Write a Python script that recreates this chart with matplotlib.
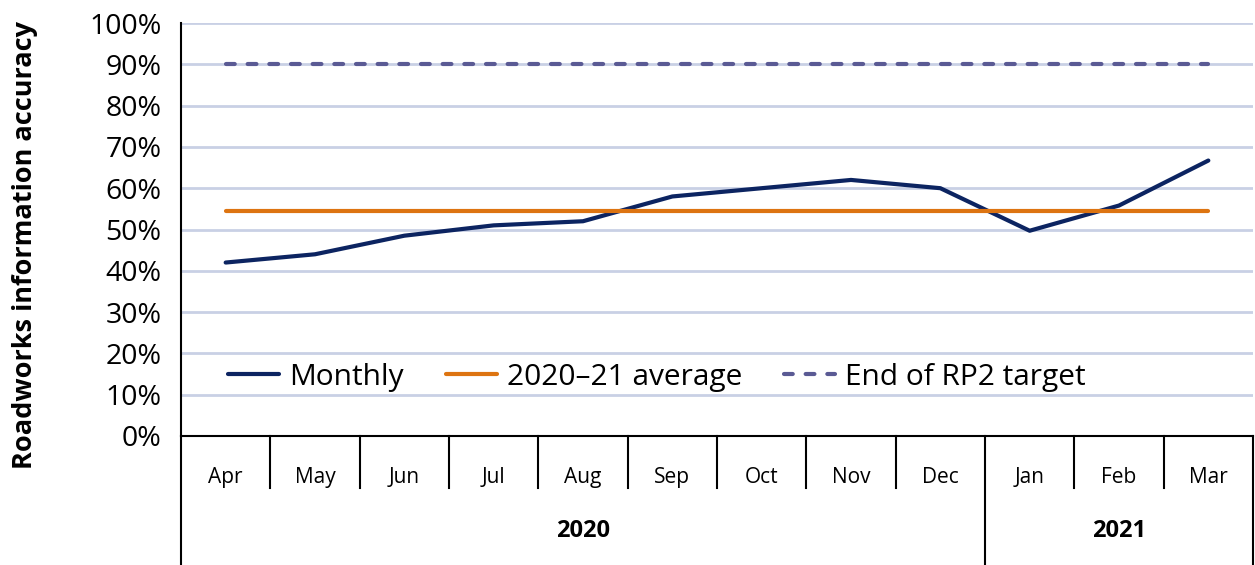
import numpy as np
import matplotlib
matplotlib.use('Agg')
import matplotlib.pyplot as plt
import matplotlib.transforms as mtransforms
from matplotlib.ticker import PercentFormatter

plt.rcParams['font.family'] = ['Open Sans', 'DejaVu Sans']

months = ['Apr', 'May', 'Jun', 'Jul', 'Aug', 'Sep', 'Oct', 'Nov', 'Dec', 'Jan', 'Feb', 'Mar']
years = ['2020', '2021']
year_months = [9, 3]  # months per year group
monthly = [42, 44, 48.5, 51, 52, 58, 60, 62, 60, 49.7, 55.8, 66.7]
average = 54.6
target = 90

navy = '#0c2461'
orange = '#dd7411'
purple = '#5a5a94'
grid = '#c9d0e5'

fig = plt.figure(figsize=(12.55, 5.65), dpi=100)
ax = fig.add_axes([181 / 1255, (565 - 436) / 565, (1253 - 181) / 1255, (436 - 23) / 565])

x = np.arange(len(months))
ax.plot(x, monthly, color=navy, lw=3, solid_capstyle='round', label='Monthly', zorder=3)
ax.plot(x, [average] * len(x), color=orange, lw=3, solid_capstyle='round', label='2020\u201321 average', zorder=3)
ax.plot(x, [target] * len(x), color=purple, lw=3, ls=(0, (2.1, 3.1)), dash_capstyle='round', label='End of RP2 target', zorder=3)

ax.set_xlim(-0.5, len(months) - 0.5)
ax.set_ylim(0, 100)
ax.set_yticks(np.arange(0, 101, 10))
ax.yaxis.set_major_formatter(PercentFormatter(decimals=0))
ax.grid(axis='y', color=grid, lw=2)
ax.set_axisbelow(True)
ax.tick_params(axis='y', length=0, labelsize=20.5, pad=14)

for s in ['top', 'right']:
    ax.spines[s].set_visible(False)
ax.spines['left'].set_linewidth(1.5)
ax.spines['bottom'].set_linewidth(1.5)

ax.set_xticks(x)
ax.set_xticklabels(months, fontsize=15)
ax.tick_params(axis='x', length=0, pad=22)

# category table below the axis
trans = mtransforms.blended_transform_factory(ax.transData, ax.transAxes)
month_bottom = -(488 - 436) / 413
year_bottom = -(565 - 436) / 413
edges = np.cumsum([0] + year_months) - 0.5
for b in np.arange(len(months) + 1) - 0.5:
    y0 = year_bottom if b in edges else month_bottom
    ax.plot([b, b], [0, y0], color='black', lw=1.5, transform=trans, clip_on=False)

for i, yr in enumerate(years):
    ax.text((edges[i] + edges[i + 1]) / 2, -(531 - 436) / 413, yr, transform=trans,
            ha='center', va='center', fontsize=17, fontweight='bold')

fig.text(25 / 1255, (565 - 245) / 565, 'Roadworks information accuracy', rotation=90,
         ha='center', va='center', fontsize=19.5, fontweight='bold')

ax.legend(loc='center left', bbox_to_anchor=(0.019, (436 - 377) / 413), ncol=3, frameon=False,
          fontsize=21.5, handlelength=1.7, columnspacing=1.4, handletextpad=0.35)

fig.savefig('out.png', dpi=100)
